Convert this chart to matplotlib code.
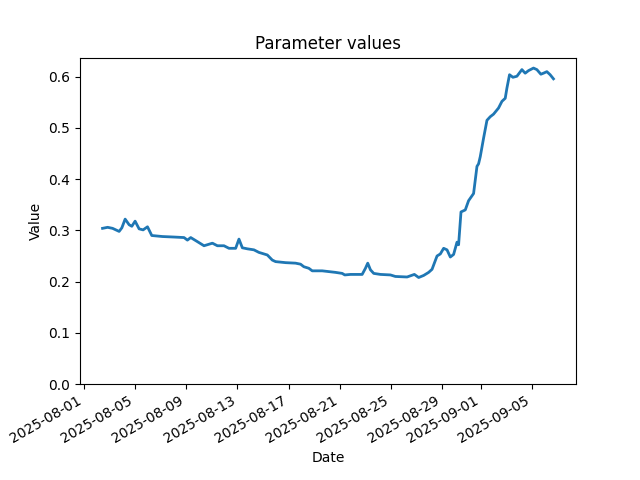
import matplotlib
matplotlib.use("Agg")
import matplotlib.pyplot as plt
import matplotlib.dates as mdates
import pandas as pd

timestamps = [
    "2025-08-02 11:30", "2025-08-02 21:00", "2025-08-03 06:15", "2025-08-03 18:35",
    "2025-08-03 23:40", "2025-08-04 05:50", "2025-08-04 13:18", "2025-08-04 18:20",
    "2025-08-05 00:30", "2025-08-05 08:00", "2025-08-05 15:30", "2025-08-05 23:42",
    "2025-08-06 07:45", "2025-08-07 03:45", "2025-08-08 01:30", "2025-08-08 20:10",
    "2025-08-09 02:30", "2025-08-09 08:43", "2025-08-09 21:15", "2025-08-10 09:35",
    "2025-08-11 01:20", "2025-08-11 10:40", "2025-08-11 23:00", "2025-08-12 08:22",
    "2025-08-12 20:54", "2025-08-13 03:05", "2025-08-13 09:26", "2025-08-13 18:47",
    "2025-08-14 07:08", "2025-08-14 16:29", "2025-08-14 22:50", "2025-08-15 08:12",
    "2025-08-15 17:33", "2025-08-15 23:43", "2025-08-16 18:25", "2025-08-17 13:07",
    "2025-08-17 22:29", "2025-08-18 04:40", "2025-08-18 14:00", "2025-08-18 20:22",
    "2025-08-19 15:04", "2025-08-20 15:57", "2025-08-21 04:29", "2025-08-21 09:21",
    "2025-08-21 20:01", "2025-08-22 17:54", "2025-08-23 00:04", "2025-08-23 04:22",
    "2025-08-23 09:26", "2025-08-23 15:36", "2025-08-24 04:08", "2025-08-24 22:50",
    "2025-08-25 08:12", "2025-08-26 06:04", "2025-08-26 19:44", "2025-08-27 03:47",
    "2025-08-27 13:08", "2025-08-27 22:29", "2025-08-28 04:50", "2025-08-28 14:12",
    "2025-08-28 20:22", "2025-08-29 02:33", "2025-08-29 08:54", "2025-08-29 15:04",
    "2025-08-29 21:15", "2025-08-30 03:36", "2025-08-30 06:36", "2025-08-30 11:05",
    "2025-08-30 19:08", "2025-08-31 01:18", "2025-08-31 10:40", "2025-08-31 17:01",
    "2025-08-31 20:01", "2025-08-31 23:11", "2025-09-01 05:22", "2025-09-01 11:44",
    "2025-09-01 17:54", "2025-09-02 00:04", "2025-09-02 09:26", "2025-09-02 15:47",
    "2025-09-02 21:58", "2025-09-03 01:09", "2025-09-03 06:00", "2025-09-03 12:22",
    "2025-09-03 19:50", "2025-09-04 05:12", "2025-09-04 11:22", "2025-09-04 17:33",
    "2025-09-05 02:54", "2025-09-05 09:15", "2025-09-05 16:45", "2025-09-05 21:36",
    "2025-09-06 03:58", "2025-09-06 10:08", "2025-09-06 16:19",
]
values = [
    0.304, 0.306, 0.304, 0.298,
    0.305, 0.322, 0.311, 0.308,
    0.318, 0.303, 0.301, 0.307,
    0.290, 0.288, 0.287, 0.286,
    0.281, 0.286, 0.278, 0.270,
    0.275, 0.270, 0.270, 0.265,
    0.265, 0.283, 0.266, 0.264,
    0.262, 0.257, 0.255, 0.252,
    0.242, 0.239, 0.237, 0.236,
    0.234, 0.229, 0.226, 0.221,
    0.221, 0.218, 0.216, 0.213,
    0.214, 0.214, 0.226, 0.236,
    0.223, 0.216, 0.214, 0.213,
    0.210, 0.209, 0.214, 0.208,
    0.212, 0.218, 0.224, 0.250,
    0.254, 0.265, 0.262, 0.248,
    0.253, 0.277, 0.272, 0.336,
    0.340, 0.358, 0.372, 0.425,
    0.430, 0.444, 0.480, 0.515,
    0.522, 0.527, 0.539, 0.552,
    0.558, 0.578, 0.604, 0.599,
    0.601, 0.614, 0.607, 0.612,
    0.617, 0.614, 0.605, 0.607,
    0.610, 0.604, 0.596,
]

dates = pd.to_datetime(timestamps)

fig, ax = plt.subplots(figsize=(6.4, 4.8), dpi=100)
ax.plot(dates, values, color="#1f77b4", linewidth=2)
ax.set_ylim(bottom=0)
ax.set_title("Parameter values")
ax.set_xlabel("Date")
ax.set_ylabel("Value")
ax.xaxis.set_major_locator(mdates.DayLocator(bymonthday=[1, 5, 9, 13, 17, 21, 25, 29]))
ax.xaxis.set_major_formatter(mdates.DateFormatter("%Y-%m-%d"))
fig.autofmt_xdate()
fig.savefig("out.png", dpi=100)
